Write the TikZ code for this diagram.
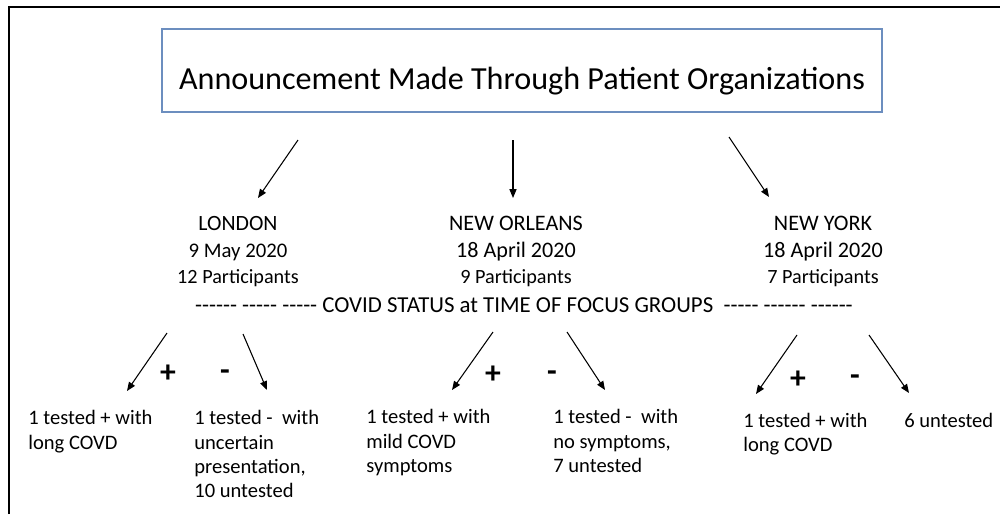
\documentclass[tikz,border=0pt]{standalone}
\usepackage{fontspec}
\setmainfont{Carlito}[Ligatures=TeXOff]
\usetikzlibrary{arrows.meta}
\definecolor{boxblue}{RGB}{108,142,191}
\begin{document}
\begin{tikzpicture}[x=0.02cm,y=-0.02cm,
  arr/.style={-{Triangle[length=5pt,width=4pt]},line width=0.6pt},
  cityname/.style={anchor=base,inner sep=0pt,font=\fontsize{12.6}{15}\selectfont},
  partline/.style={anchor=base,inner sep=0pt,font=\fontsize{11.5}{14}\selectfont},
  res/.style={anchor=base west,inner sep=0pt,font=\fontsize{11.7}{14}\selectfont},
  sign/.style={anchor=center,inner sep=0pt,font=\fontsize{18}{20}\selectfont\bfseries},
  frameline/.style={line width=1.1pt}
]
\useasboundingbox (0,0) rectangle (1000,514);
% outer frame (left and top)
\draw[frameline] (9,514) -- (9,7) -- (1000,7);

% title
\node[draw=boxblue,line width=0.9pt,minimum width=14.4cm,minimum height=1.66cm,inner sep=0pt] (titlebox) at (522,70.5) {};
\node[anchor=base,inner sep=0pt,font=\fontsize{18.3}{22}\selectfont] (title) at (522,89) {Announcement Made Through Patient Organizations};

% top arrows
\coordinate (t1s) at (298,140); \coordinate (t1e) at (258,198);
\coordinate (t2s) at (513,140); \coordinate (t2e) at (513,198);
\coordinate (t3s) at (729,137); \coordinate (t3e) at (769,197);
\draw[arr] (t1s) -- (t1e);
\draw[arr] (t2s) -- (t2e);
\draw[arr] (t3s) -- (t3e);

% cities
\node[cityname,font=\fontsize{12.4}{15}\selectfont] (lon) at (238,230) {LONDON};
\node[cityname,font=\fontsize{11.8}{15}\selectfont] (londate) at (238,257) {9 May 2020};
\node[partline] (lonpart) at (238,283) {12 Participants};

\node[cityname] (nor) at (516,230) {NEW ORLEANS};
\node[cityname] (nordate) at (516,257) {18 April 2020};
\node[partline] (norpart) at (516,283) {9 Participants};

\node[cityname] (nyk) at (823,230) {NEW YORK};
\node[cityname] (nykdate) at (823,257) {18 April 2020};
\node[partline] (nykpart) at (823,283) {7 Participants};

% status line
\node[anchor=base,inner sep=0pt,font=\fontsize{13}{15}\selectfont] (status) at (524,312) {------ ----- ----- COVID STATUS at TIME OF FOCUS GROUPS~ ----- ------ ------};

% bottom arrows
\coordinate (b1s) at (167,333); \coordinate (b1e) at (127,391);
\coordinate (b2s) at (243,334); \coordinate (b2e) at (267,390);
\coordinate (b3s) at (493,332); \coordinate (b3e) at (452,390);
\coordinate (b4s) at (567,332); \coordinate (b4e) at (605,390);
\coordinate (b5s) at (797,335); \coordinate (b5e) at (756,394);
\coordinate (b6s) at (869,335); \coordinate (b6e) at (909,393);
\foreach \i in {1,...,6} {\draw[arr] (b\i s) -- (b\i e);}

% signs
\node[sign] (lonplus) at (168,374) {+};
\node[sign] (lonminus) at (225,375) {-};
\node[sign] (norplus) at (493,375) {+};
\node[sign] (norminus) at (552,376) {-};
\node[sign] (nykplus) at (798,380) {+};
\node[sign] (nykminus) at (855,380) {-};

% results
\node[res] (r1a) at (28,424) {1 tested + with};
\node[res] (r1b) at (28,449) {long COVD};

\node[res] (r2a) at (194,424) {1 tested -~ with};
\node[res] (r2b) at (194,449) {uncertain};
\node[res] (r2c) at (194,473) {presentation,};
\node[res] (r2d) at (194,497) {10 untested};

\node[res] (r3a) at (366,423) {1 tested + with};
\node[res] (r3b) at (366,448) {mild COVD};
\node[res] (r3c) at (366,472) {symptoms};

\node[res] (r4a) at (553,423) {1 tested -~ with};
\node[res] (r4b) at (553,448) {no symptoms,};
\node[res] (r4c) at (553,472) {7 untested};

\node[res] (r5a) at (743,427) {1 tested + with};
\node[res] (r5b) at (743,451) {long COVD};

\node[res] (r6a) at (904,427) {6 untested};
\end{tikzpicture}
\end{document}
